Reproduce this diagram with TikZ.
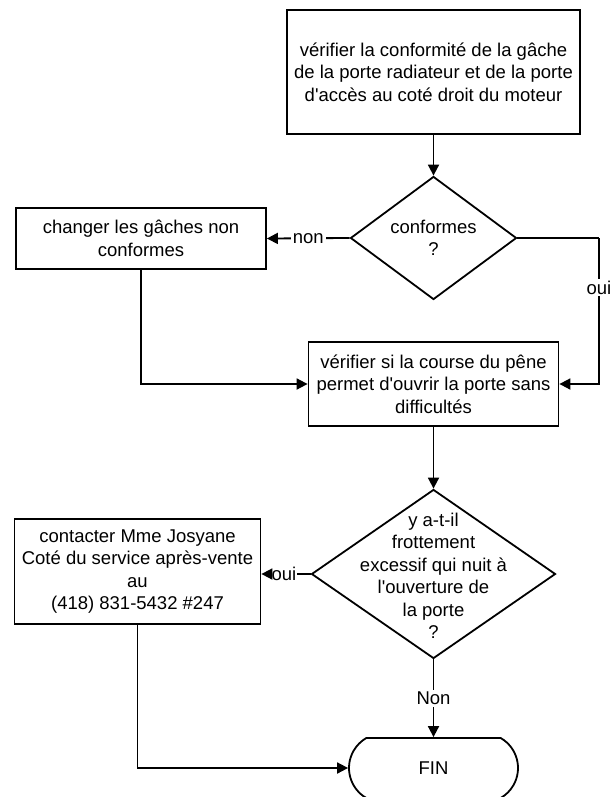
\documentclass[tikz,border=0pt]{standalone}
\usepackage{fontspec}
\setmainfont{Liberation Sans}
\usetikzlibrary{positioning,arrows.meta,shapes.geometric,shapes.misc}

\begin{document}
\begin{tikzpicture}[
    x=1pt,y=-1pt,
    every node/.style={font=\fontsize{18.5}{22.5}\selectfont},
    task/.style={line width=1.8pt,draw,rectangle,align=center,inner sep=0pt},
    decision/.style={line width=1.8pt,draw,diamond,inner sep=0pt},
    terminal/.style={line width=1.8pt,draw,rounded rectangle,rounded rectangle arc length=120,inner sep=0pt},
    answer/.style={fill=white,inner sep=2pt},
    flow/.style={line width=1.8pt,-{Triangle[length=11pt,width=11pt]}},
    link/.style={line width=1.8pt}
    ]
  \useasboundingbox (0,0) rectangle (610,797);

  \node(check) [task,minimum width=293pt,minimum height=124pt] at (433.5,72)
    {vérifier la conformité de la gâche\\de la porte radiateur et de la porte\\d\textquotesingle accès au coté droit du moteur};

  \node(conform) [decision,minimum width=166pt,minimum height=123pt] at (433.5,238) {};
  \node(conformText) [align=center] at (conform) {conformes\\?};

  \node(change) [task,minimum width=250pt,minimum height=61pt] at (141,238.5)
    {changer les gâches non\\conformes};

  \node(course) [task,minimum width=250pt,minimum height=84pt] at (433.5,384)
    {vérifier si la course du pêne\\permet d\textquotesingle ouvrir la porte sans\\difficultés};

  \node(friction) [decision,minimum width=244pt,minimum height=169pt] at (433.5,574) {};
  \node(frictionText) [align=center,yshift=-2pt] at (friction)
    {y a-t-il\\frottement\\excessif qui nuit à\\l\textquotesingle ouverture de\\la porte\\?};

  \node(contact) [task,minimum width=246pt,minimum height=105pt] at (137.5,571.5)
    {contacter Mme Josyane\\Coté du service après-vente\\au\\(418) 831-5432 \#247};

  \node(fin) [terminal,minimum width=169pt,minimum height=60pt] at (433.5,768) {FIN};

  \node(ouiLeft) [inner sep=0.5pt] at (284,574) {oui};
  \coordinate(bendRight) at (599,238);

  \draw[flow] (check) -- (conform);
  \draw[flow] (conform.west) -- node[answer,pos=0.5] {non} (change.east);
  \draw[link] (conform.east) -- (bendRight);
  \draw[flow] (bendRight) |- node[answer,pos=0.17] {oui} (course.east);
  \draw[flow] (change.south) |- (course.west);
  \draw[flow] (course) -- (friction);
  \draw[link] (friction.west) -- (ouiLeft);
  \draw[flow] (ouiLeft) -- (ouiLeft -| contact.east);
  \draw[flow] (friction.south) -- node[answer,pos=0.5] {Non} (fin.north);
  \draw[flow] (contact.south) |- (fin.west);

\end{tikzpicture}
\end{document}
